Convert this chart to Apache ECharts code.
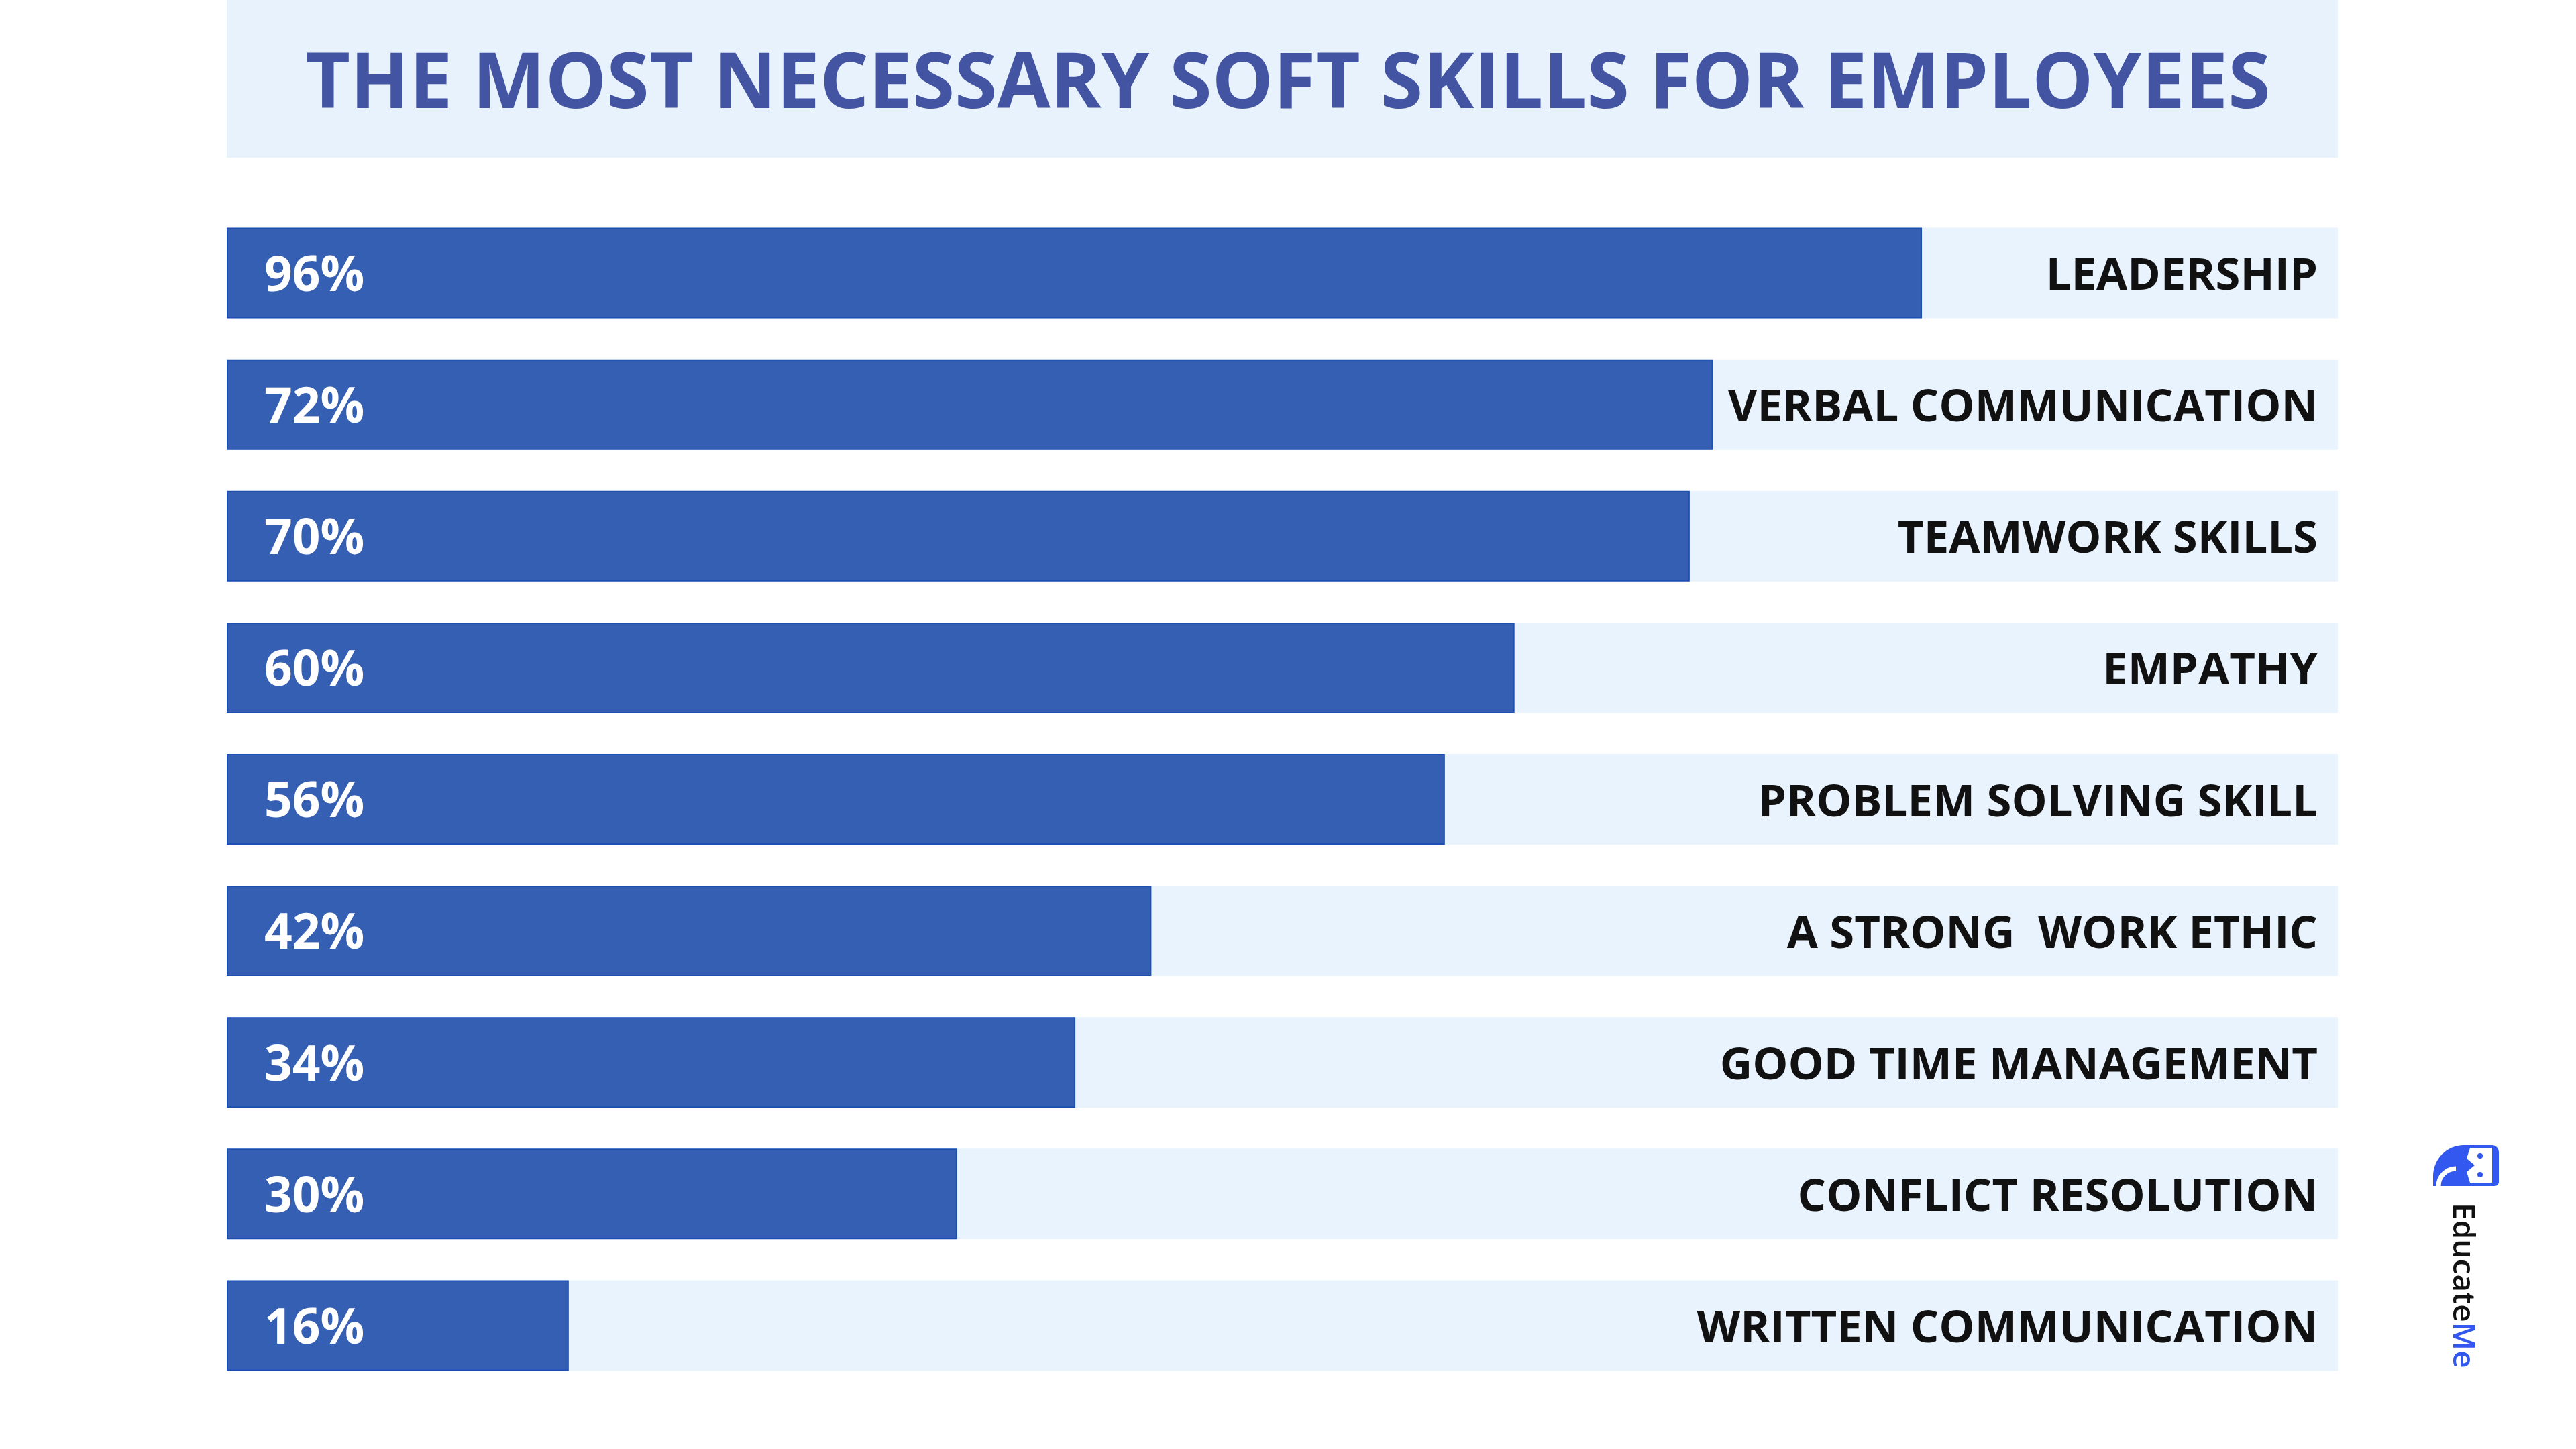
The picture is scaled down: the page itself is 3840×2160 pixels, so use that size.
<!DOCTYPE html>
<html>
<head>
<meta charset="utf-8">
<title>The most necessary soft skills for employees</title>
<script src="https://cdn.jsdelivr.net/npm/echarts@6/dist/echarts.min.js"></script>
<style>
  html, body { margin: 0; padding: 0; background: #ffffff; }
  #chart { width: 3840px; height: 2160px; }
</style>
</head>
<body>
<div id="chart"></div>
<script>
// skills, top to bottom
const skills = [
  'LEADERSHIP',
  'VERBAL COMMUNICATION',
  'TEAMWORK SKILLS',
  'EMPATHY',
  'PROBLEM SOLVING SKILL',
  'A STRONG  WORK ETHIC',
  'GOOD TIME MANAGEMENT',
  'CONFLICT RESOLUTION',
  'WRITTEN COMMUNICATION'
]
// printed share of employers
const shares = [96, 72, 70, 60, 56, 42, 34, 30, 16]
// drawn length of each bar, as % of the light track
const fillLength = [80.3, 70.4, 69.3, 61.0, 57.7, 43.8, 40.2, 34.6, 16.2]

const font = '"Open Sans", "Noto Sans", sans-serif'
const chart = echarts.init(document.getElementById('chart'))

chart.setOption({
  backgroundColor: '#ffffff',
  animation: false,
  title: {
    text: 'THE MOST NECESSARY SOFT SKILLS FOR EMPLOYEES',
    left: 'center',
    top: 64,
    textStyle: {
      fontFamily: font,
      fontWeight: 700,
      fontSize: 115,
      lineHeight: 118,
      color: '#4354a3'
    }
  },
  grid: { left: 338, right: 355, top: 309, bottom: 86 },
  xAxis: {
    type: 'value',
    min: 0,
    max: 100,
    show: false
  },
  yAxis: {
    type: 'category',
    inverse: true,
    data: skills,
    show: false
  },
  series: [
    {
      // light track + skill name on the right
      type: 'bar',
      barWidth: 135,
      silent: true,
      data: skills.map(() => 100),
      itemStyle: { color: '#e9f3fd' },
      label: {
        show: true,
        position: 'insideRight',
        distance: 30,
        offset: [0, 6],
        formatter: p => skills[p.dataIndex],
        fontFamily: font,
        fontWeight: 700,
        fontSize: 67,
        color: '#111111'
      },
      z: 1
    },
    {
      type: 'bar',
      barWidth: 135,
      barGap: '-100%',
      data: fillLength,
      itemStyle: { color: '#355fb3', borderColor: '#1d4fb3', borderWidth: 2 },
      label: {
        show: true,
        position: 'insideLeft',
        distance: 56,
        offset: [0, 6],
        formatter: p => shares[p.dataIndex] + '%',
        fontFamily: font,
        fontWeight: 700,
        fontSize: 73,
        color: '#ffffff'
      },
      z: 2
    }
  ],
  graphic: [
    {
      // title band
      type: 'rect',
      z: -1,
      shape: { x: 338, y: 0, width: 3147, height: 235 },
      style: { fill: '#e8f2fd' }
    },
    {
      // EducateMe mark
      type: 'group',
      left: 3627,
      top: 1707,
      children: [
        {
          type: 'rect',
          shape: { x: 0, y: 0, width: 98, height: 61, r: [46, 10, 6, 0] },
          style: { fill: '#3258ef' }
        },
        {
          type: 'arc',
          shape: { cx: 34, cy: 61, r: 26, startAngle: Math.PI, endAngle: Math.PI * 1.5 },
          style: { stroke: '#ffffff', lineWidth: 7, fill: null }
        },
        {
          type: 'polygon',
          shape: { points: [[55, 4], [88, 4], [88, 56], [55, 56], [50, 40], [62, 30], [50, 20]] },
          style: { fill: '#ffffff' }
        },
        { type: 'circle', shape: { cx: 70, cy: 16, r: 4 }, style: { fill: '#3258ef' } },
        { type: 'circle', shape: { cx: 70, cy: 44, r: 4 }, style: { fill: '#3258ef' } }
      ]
    },
    {
      type: 'text',
      x: 3693,
      y: 1793,
      rotation: -Math.PI / 2,
      style: {
        rich: {
          a: { fontFamily: font, fontWeight: 600, fontSize: 46, fill: '#111111' },
          b: { fontFamily: font, fontWeight: 600, fontSize: 46, fill: '#3258ef' }
        },
        text: '{a|Educate}{b|Me}',
        textAlign: 'left',
        textVerticalAlign: 'top'
      }
    }
  ]
})
</script>
</body>
</html>
